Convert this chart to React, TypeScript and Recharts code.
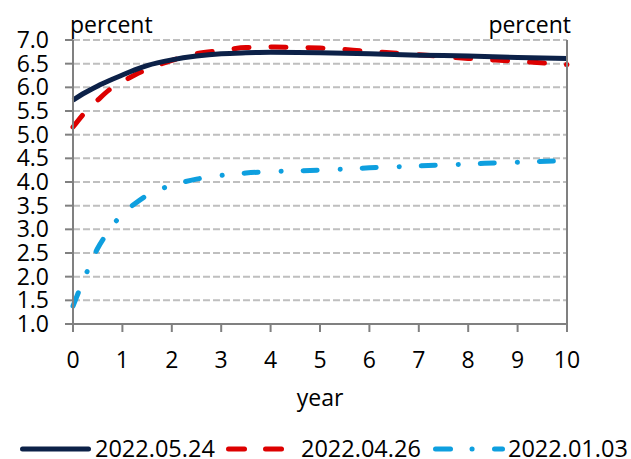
import React from "react";
import { LineChart, Line, XAxis, YAxis, CartesianGrid, Label } from "recharts";

const years = [0, 0.25, 0.5, 0.75, 1, 1.25, 1.5, 2, 2.5, 3, 3.5, 4, 5, 6, 7, 8, 9, 10];
const s0524 = [5.73, 5.89, 6.03, 6.15, 6.26, 6.37, 6.46, 6.58, 6.66, 6.71, 6.73, 6.74, 6.73, 6.71, 6.68, 6.66, 6.63, 6.61];
const s0426 = [5.16, 5.48, 5.73, 5.96, 6.12, 6.26, 6.38, 6.57, 6.71, 6.78, 6.84, 6.85, 6.83, 6.76, 6.69, 6.61, 6.55, 6.48];
const s0103 = [1.38, 2.02, 2.6, 3.0, 3.33, 3.54, 3.72, 3.93, 4.06, 4.14, 4.19, 4.22, 4.25, 4.3, 4.34, 4.38, 4.42, 4.45];
const xTicks = [0, 1, 2, 3, 4, 5, 6, 7, 8, 9, 10];
const yTicks = [1.0, 1.5, 2.0, 2.5, 3.0, 3.5, 4.0, 4.5, 5.0, 5.5, 6.0, 6.5, 7.0];
const seriesNames = ["2022.05.24", "2022.04.26", "2022.01.03"];
const colors = ["#0C2148", "#DD0000", "#0E9FDF"];

const data = years.map((y, i) => ({ year: y, a: s0524[i], b: s0426[i], c: s0103[i] }));

const FONT = "'Open Sans', sans-serif";
const FS = 23;
const tickStyle = { fontSize: FS, fill: "#000", fontFamily: FONT };
const textStyle = { fontSize: FS, fill: "#000", fontFamily: FONT };
const legendStyle = { fontSize: 23.5, fill: "#000", fontFamily: FONT };

export default function App() {
  return (
    <div style={{ position: "absolute", left: 0, top: 0, width: 631, height: 459, background: "#fff" }}>
      <LineChart width={631} height={459} data={data} margin={{ top: 40, right: 0, bottom: 35, left: 0 }}>
        <CartesianGrid vertical={false} stroke="#BFBFBF" strokeWidth={2} strokeDasharray="7 3" yAxisId="left" />
        <XAxis
          dataKey="year"
          type="number"
          domain={[0, 10]}
          ticks={xTicks}
          height={100}
          stroke="#808080"
          strokeWidth={2}
          tickSize={8}
          tickMargin={20}
          tick={tickStyle}
          interval={0}
        >
          <Label
            content={(props: any) => {
              const vb = props.viewBox || {};
              return (
                <text x={vb.x + vb.width / 2} y={vb.y + 82} textAnchor="middle" style={textStyle}>
                  year
                </text>
              );
            }}
          />
        </XAxis>
        <YAxis
          yAxisId="left"
          domain={[1, 7]}
          ticks={yTicks}
          width={73}
          stroke="#808080"
          strokeWidth={2}
          tickSize={8}
          tickMargin={16}
          tick={tickStyle}
          tickFormatter={(v: number) => v.toFixed(1)}
          interval={0}
        >
          <Label
            content={(props: any) => {
              const vb = props.viewBox || {};
              return (
                <text x={vb.x + vb.width - 3} y={vb.y - 7} textAnchor="start" style={textStyle}>
                  percent
                </text>
              );
            }}
          />
        </YAxis>
        <YAxis
          yAxisId="right"
          orientation="right"
          domain={[1, 7]}
          ticks={yTicks}
          width={64}
          stroke="#808080"
          strokeWidth={2}
          tickSize={-8}
          tickMargin={33}
          tick={tickStyle}
          tickFormatter={(v: number) => v.toFixed(1)}
          interval={0}
        >
          <Label
            content={(props: any) => {
              const vb = props.viewBox || {};
              return (
                <text x={vb.x + 4} y={vb.y - 7} textAnchor="end" style={textStyle}>
                  percent
                </text>
              );
            }}
          />
        </YAxis>
        <Line yAxisId="left" type="monotone" dataKey="c" name={seriesNames[2]} stroke={colors[2]} strokeWidth={5} strokeLinecap="round" strokeDasharray="14 23 0.1 22" dot={false} isAnimationActive={false} />
        <Line yAxisId="left" type="monotone" dataKey="b" name={seriesNames[1]} stroke={colors[1]} strokeWidth={5} strokeLinecap="round" strokeDasharray="15 22" dot={false} isAnimationActive={false} />
        <Line yAxisId="left" type="monotone" dataKey="a" name={seriesNames[0]} stroke={colors[0]} strokeWidth={5} dot={false} isAnimationActive={false} />
      </LineChart>
      <svg width={631} height={49} style={{ position: "absolute", left: 0, top: 410 }}>
        <line x1={22.5} y1={39} x2={88.5} y2={39} stroke={colors[0]} strokeWidth={5} strokeLinecap="round" />
        <text x={95} y={47} style={legendStyle}>{seriesNames[0]}</text>
        <line x1={228.5} y1={39} x2={244.5} y2={39} stroke={colors[1]} strokeWidth={5} strokeLinecap="round" />
        <line x1={265.5} y1={39} x2={281.5} y2={39} stroke={colors[1]} strokeWidth={5} strokeLinecap="round" />
        <text x={301} y={47} style={legendStyle}>{seriesNames[1]}</text>
        <line x1={435.5} y1={39} x2={450.5} y2={39} stroke={colors[2]} strokeWidth={5} strokeLinecap="round" />
        <line x1={472} y1={39} x2={472.1} y2={39} stroke={colors[2]} strokeWidth={5} strokeLinecap="round" />
        <line x1={494.5} y1={39} x2={502.5} y2={39} stroke={colors[2]} strokeWidth={5} strokeLinecap="round" />
        <text x={508} y={47} style={legendStyle}>{seriesNames[2]}</text>
      </svg>
    </div>
  );
}
